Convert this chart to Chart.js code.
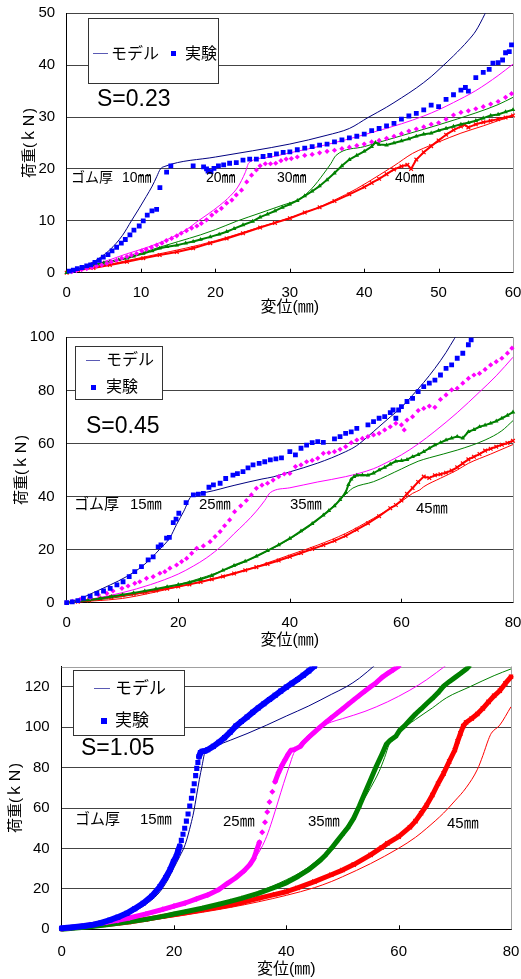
<!DOCTYPE html>
<html><head><meta charset="utf-8">
<script src="https://cdn.jsdelivr.net/npm/chart.js@4/dist/chart.umd.min.js"></script>
<style>
body{margin:0;background:#fff;width:521px;height:979px;position:relative;overflow:hidden;font-family:"Liberation Sans",Arial,"Noto Sans CJK JP",sans-serif;color:#000}
canvas{position:absolute;left:0}
.t{position:absolute;white-space:nowrap;line-height:1;color:#000}
.leg{position:absolute;border:1px solid #333;background:#fff;box-sizing:border-box}
.ln{position:absolute;height:0;border-top:1.5px solid #5a5ab4}
.sq{position:absolute;width:5px;height:5px;background:#0000ff}
</style></head><body>
<canvas id="c1" width="521" height="320" style="top:0"></canvas>
<canvas id="c2" width="521" height="335" style="top:320px"></canvas>
<canvas id="c3" width="521" height="324" style="top:655px"></canvas>

<!-- panel 1 overlays -->
<div class="leg" style="left:88px;top:18px;width:131px;height:66px">
  <div class="ln" style="left:4px;top:34px;width:15px"></div>
  <div class="t" style="left:22px;top:27px;font-size:16px">モデル</div>
  <div class="sq" style="left:82px;top:32px"></div>
  <div class="t" style="left:96px;top:27px;font-size:16px">実験</div>
</div>
<div class="t" style="left:97px;top:87px;font-size:23px">S=0.23</div>
<div class="t" style="left:71px;top:170px;font-size:14px">ゴム厚</div>
<div class="t" style="left:122px;top:170px;font-size:14px">10㎜</div>
<div class="t" style="left:206px;top:170px;font-size:14px">20㎜</div>
<div class="t" style="left:277px;top:170px;font-size:14px">30㎜</div>
<div class="t" style="left:395px;top:170px;font-size:14px">40㎜</div>

<!-- panel 2 overlays -->
<div class="leg" style="left:75px;top:346px;width:88px;height:54px">
  <div class="ln" style="left:10px;top:13px;width:14px"></div>
  <div class="t" style="left:30px;top:5px;font-size:16px">モデル</div>
  <div class="sq" style="left:15px;top:38px"></div>
  <div class="t" style="left:30px;top:32px;font-size:16px">実験</div>
</div>
<div class="t" style="left:86px;top:414px;font-size:23px">S=0.45</div>
<div class="t" style="left:74px;top:496px;font-size:15px">ゴム厚</div>
<div class="t" style="left:130px;top:496px;font-size:15px">15㎜</div>
<div class="t" style="left:199px;top:496px;font-size:15px">25㎜</div>
<div class="t" style="left:290px;top:496px;font-size:15px">35㎜</div>
<div class="t" style="left:416px;top:500px;font-size:15px">45㎜</div>

<!-- panel 3 overlays -->
<div class="leg" style="left:73px;top:670px;width:112px;height:66px">
  <div class="ln" style="left:20px;top:17px;width:16px"></div>
  <div class="t" style="left:41px;top:9px;font-size:17px">モデル</div>
  <div class="sq" style="left:27px;top:47px;width:6px;height:6px"></div>
  <div class="t" style="left:41px;top:41px;font-size:17px">実験</div>
</div>
<div class="t" style="left:81px;top:736px;font-size:23px">S=1.05</div>
<div class="t" style="left:75px;top:811px;font-size:15px">ゴム厚</div>
<div class="t" style="left:140px;top:811px;font-size:15px">15㎜</div>
<div class="t" style="left:223px;top:813px;font-size:15px">25㎜</div>
<div class="t" style="left:308px;top:813px;font-size:15px">35㎜</div>
<div class="t" style="left:447px;top:815px;font-size:15px">45㎜</div>

<script>
// ---------- tick values ----------
const p1_xTicks = [0,10,20,30,40,50,60];
const p1_yTicks = [0,10,20,30,40,50];
const p2_xTicks = [0,20,40,60,80];
const p2_yTicks = [0,20,40,60,80,100];
const p3_xTicks = [0,20,40,60,80];
const p3_yTicks = [0,20,40,60,80,100,120];
const xTitle = '変位(㎜)';
const yTitle = '荷重(ｋＮ)';

// ---------- Panel 1 : S=0.23 ----------
const p1_exp10 = [[0.35,0.3],[0.89,0.5],[1.43,0.8],[2.06,1.0],[2.69,1.3],[3.22,1.5],[3.8,2.0],[4.38,2.4],[4.92,3.0],[5.55,3.5],[6.09,4.2],[6.71,4.9],[7.34,5.7],[7.88,6.4],[8.5,7.3],[9.04,8.2],[9.75,9.0],[10.29,10.0],[10.83,11.1],[11.46,11.9],[12.09,12.2],[12.53,16.4],[13.43,19.4],[14.0,20.6],[17.0,20.6],[18.4,20.4],[18.8,20.0],[19.0,19.6],[19.4,19.5],[19.8,20.1],[20.4,20.6],[21.1,20.8],[21.9,21.1],[22.8,21.2],[23.7,21.7],[24.6,21.9],[25.5,21.9],[26.4,22.4],[27.3,22.6],[28.2,22.9],[29.1,23.2],[30,23.3],[31,23.7],[32,24.0],[33,24.3],[34,24.6],[35,24.8],[36,25.2],[37,25.6],[38,26.0],[39,26.3],[40,26.7],[41,27.4],[42,27.8],[43,28.3],[44,28.8],[45,29.6],[46,30.2],[47,30.7],[48,31.4],[49,32.3],[50,32.0],[51,33.4],[52,34.3],[53,35.2],[53.6,35.7],[54,35.0],[55,37.6],[56,38.6],[56.8,39.2],[57.3,40.4],[58,40.5],[58.6,41.0],[59,42.4],[59.5,42.6],[59.8,43.9]];
const p1_exp20 = [[0.7,0.2],[1.3,0.4],[2.0,0.6],[2.7,0.8],[3.4,1.0],[4.0,1.3],[4.7,1.5],[5.4,1.8],[6.0,2.1],[6.7,2.4],[7.4,2.8],[8.1,3.1],[8.7,3.4],[9.4,3.7],[10.1,4.2],[10.7,4.5],[11.4,4.9],[12.1,5.3],[12.8,5.7],[13.4,6.2],[14.1,6.6],[14.8,7.1],[15.4,7.6],[16.1,8.1],[16.8,8.6],[17.5,9.0],[18.1,9.5],[18.8,10.2],[19.5,11.1],[20.1,11.8],[20.8,12.4],[21.5,13.4],[22.2,14.0],[22.8,15.0],[23.5,15.9],[24.2,17.5],[24.85,18.8],[25.5,19.8],[26,20.6],[26.7,21.0],[27.4,21.0],[28.1,21.1],[28.8,21.6],[29.5,21.9],[30.2,22.0],[31,22.3],[32,22.6],[33,22.8],[34,23.1],[35,23.4],[36,23.6],[37,23.9],[38,24.2],[39,24.5],[40,24.8],[41,25.2],[42,25.5],[43,25.9],[44,26.3],[45,26.8],[46,27.3],[47,27.7],[48,28.1],[49,28.6],[50,28.9],[51,29.6],[52,30.4],[53,30.9],[54,31.2],[55,31.6],[56,32.0],[57,32.5],[58,33.0],[59,33.8],[59.8,34.5]];
const p1_exp30 = [[0,0],[1,0.4],[2,0.8],[3.6,1.5],[5,1.9],[5.8,2.1],[7,2.5],[8.1,2.8],[9,3.2],[10.3,3.7],[11.5,4.2],[12.5,4.7],[13.5,5.0],[14.8,5.3],[16,5.7],[17,6.0],[18,6.4],[19.3,6.9],[20.5,7.4],[21.5,7.9],[22.5,8.5],[23.7,9.2],[25,9.9],[26,10.7],[27,11.3],[28,11.9],[29,12.6],[30,13.2],[31,13.9],[32,14.8],[33,15.7],[34,16.7],[35,17.9],[36,19.2],[37,20.6],[38,21.8],[39,22.6],[40,23.4],[41,24.3],[41.5,25.1],[42,24.7],[43,24.6],[44,25.0],[45,25.4],[46,25.8],[47,26.3],[48,26.7],[49,26.9],[50,27.4],[51,27.8],[52,28.2],[53,28.6],[54,28.9],[55,29.3],[56,29.8],[57,30.3],[58,30.5],[59,31.0],[60,31.4]];
const p1_exp40 = [[0,0],[1.5,0.5],[3.6,0.9],[5.8,1.5],[8.1,2.1],[10.3,2.8],[12.5,3.4],[14.8,4.0],[17,4.7],[19.3,5.7],[21.5,6.6],[23.7,7.6],[26,8.7],[28,9.6],[30,10.5],[32,11.6],[34,12.6],[36,13.8],[38,15.1],[40,16.5],[41,17.3],[42,18.1],[43,19.0],[44,19.9],[45,20.5],[45.8,20.8],[46.3,20.0],[47,21.8],[48,23.2],[49,24.4],[50,25.5],[51,26.6],[52,27.5],[53,28.2],[53.5,28.5],[54,28.0],[55,28.6],[56,29.0],[57,29.3],[58,29.6],[59,29.9],[60,30.3]];
const p1_mod10 = [[0,0],[1,0.4],[2,1.0],[3.6,2.1],[5.8,4.4],[7.5,7.2],[8.7,10.0],[9.7,12.3],[10.7,14.7],[11.5,16.7],[12.1,18.5],[12.6,20.0],[13.2,20.5],[20,22.3],[25,23.5],[30,24.8],[35,26.5],[38,27.8],[40.5,29.9],[43,31.9],[45,33.7],[47,35.6],[49,37.8],[50.3,39.5],[52,41.8],[54,44.8],[55,46.6],[56.2,49.8],[56.6,51]];
const p1_mod20 = [[0,0],[2,0.8],[4,1.7],[6,2.6],[8,3.6],[10,4.5],[12,5.5],[14,6.7],[16,8.2],[17.5,9.8],[19,11.3],[20.5,12.9],[22,14.8],[23,16.5],[24,19.3],[24.5,21.2],[27,22.2],[30,23.1],[35,24.7],[40,26.6],[45,28.7],[48,30.2],[50,31.4],[52,32.8],[55,35.1],[58,38.0],[60,40.2]];
const p1_mod30 = [[0,0],[3,0.9],[6,2.0],[9,3.3],[12,4.7],[15,6.0],[18,7.3],[20,8.3],[22.8,9.9],[26,11.5],[29,13.0],[31.4,14.3],[33,16.3],[34.5,19.0],[35.5,21.0],[36.2,22.6],[40,24.3],[45,26.4],[50,28.5],[55,30.8],[58,32.4],[60,33.8]];
const p1_mod40 = [[0,0],[3,0.8],[6,1.7],[10,2.9],[14,4.1],[18,5.4],[22,7.0],[26,8.8],[30,10.6],[33,12.1],[36,14.0],[39,16.2],[42,18.8],[44,20.6],[46.5,23.0],[48,24.0],[50,25.2],[53,26.9],[56,28.3],[58,29.3],[60,30.2]];

// ---------- Panel 2 : S=0.45 ----------
const p2_exp15 = [[0,0],[1,0.3],[2,0.8],[3,1.7],[4.2,2.5],[5.4,3.5],[6.6,4.4],[7.8,5.4],[9.0,6.7],[10.1,7.9],[11.2,9.8],[12.2,11.7],[13.4,13.6],[14.6,16.1],[15.5,17.3],[16.4,21.0],[16.9,21.8],[17.9,24.3],[18.4,24.6],[19.1,30.2],[19.6,31.5],[20.1,33.7],[21.4,37.7],[22.7,40.6],[23.6,40.9],[24.5,41.2],[25.5,43.5],[26.3,44.4],[27.5,45.0],[28.5,46.8],[29.8,48.1],[30.6,48.6],[31.6,49.4],[32.5,50.8],[33.4,51.9],[34.5,52.5],[35.5,53.1],[36.5,53.8],[37.5,54.2],[38.5,54.6],[40,56.9],[41,55.7],[42,58.2],[43,59.4],[44,60.3],[45,60.7],[46,60.4],[48,61.7],[49,62.6],[50,63.8],[51,64.4],[52,65.7],[54,67.0],[55,68.2],[56,69.5],[57,70.1],[58,71.6],[58.5,72.6],[59,69.5],[59.5,72.6],[60,73.9],[61,75.8],[62,77.0],[63,79.5],[64,81.4],[65,82.7],[66,83.9],[67,85.8],[68,88.3],[69,89.6],[70,92.1],[71,94.0],[72,97.2],[72.5,99.0]];
const p2_exp25 = [[0,0],[1,0.5],[2.4,1.3],[4.2,2.0],[5.7,2.9],[7.2,3.5],[8.3,4.4],[9.9,5.4],[11.0,6.3],[12.2,7.3],[13.1,7.9],[14.3,9.2],[15.5,9.8],[16.7,11.1],[17.6,11.7],[18.5,13.0],[19.7,14.2],[20.6,15.5],[21.5,16.7],[22.4,18.6],[23.3,20.5],[24.5,21.4],[25.7,23.0],[26.6,24.9],[27.5,26.8],[28.3,29.0],[29.2,31.2],[30.1,34.3],[31.2,36.5],[32.2,38.5],[33.1,40.6],[34,43.1],[35,44.3],[36,45.0],[37,46.2],[38,47.5],[39,48.5],[40,48.7],[41,51.3],[42,51.9],[43,53.1],[44,53.6],[45,54.4],[46,56.3],[47,56.5],[48,56.9],[49,57.8],[50,58.8],[51,60.3],[52,61.3],[53,61.9],[54,62.6],[55,63.2],[56,63.8],[57,65.1],[58,66.3],[59,67.6],[60,67.0],[60.5,65.1],[61,68.8],[62,70.1],[63,72.4],[64,73.2],[65,74.1],[66,73.6],[67,76.6],[68,78.3],[69,80.2],[70,80.8],[71,82.7],[72,84.5],[73,85.8],[74,86.4],[75,87.9],[76,89.6],[77,90.8],[78,92.1],[79,94.0],[79.8,95.9]];
const p2_exp35 = [[0,0],[2,0.5],[4,1.0],[6,1.6],[8,2.3],[10,3.0],[12,3.7],[14,4.4],[16,5.2],[18,6.0],[20,6.8],[22,7.6],[24,8.8],[26,10.2],[28,12.2],[30,14.0],[32,15.6],[34,17.5],[36,19.6],[38,21.8],[40,24.2],[42,27.0],[44,29.8],[46,33.0],[47,34.7],[48,36.5],[49,38.8],[50,41.5],[50.5,44.5],[51,46.5],[51.5,47.5],[52,48.0],[53,48.1],[54,48.0],[55,48.8],[56,50.0],[57,51.0],[58,52.2],[59,53.3],[60,53.5],[61,53.9],[62,55.0],[63,55.8],[64,56.9],[65,58.2],[66,59.4],[67,60.3],[68,61.3],[69,62.0],[70,62.6],[71,62.0],[72,64.4],[73,65.2],[74,66.3],[75,66.9],[76,67.6],[77,68.4],[78,69.5],[79,70.6],[80,71.8]];
const p2_exp45 = [[0,0],[2,0.4],[4,0.9],[6,1.5],[8,2.1],[10,2.7],[12,3.3],[14,3.9],[16,4.6],[18,5.3],[20,6.1],[22,6.9],[24,7.8],[26,8.8],[28,9.9],[30,11.0],[32,12.2],[34,13.4],[36,14.6],[38,15.9],[40,17.3],[42,18.7],[44,20.2],[46,21.7],[48,23.3],[50,25.2],[52,27.5],[54,29.9],[56,32.6],[58,35.6],[59,36.8],[60,38.5],[61,41.0],[62,43.2],[63,45.5],[64,47.5],[65,47.0],[66,48.0],[67,48.4],[68,49.0],[69,49.8],[70,51.0],[71,52.5],[72,54.0],[73,55.0],[74,56.0],[75,57.3],[76,58.0],[77,58.8],[78,59.5],[79,60.2],[80,61.0]];
const p2_mod15 = [[0,0],[2,1.2],[4.8,3.8],[7.8,6.7],[10.7,9.8],[13.7,14.0],[16.7,20.2],[18.5,24.5],[19.7,29.5],[21,34.5],[22.3,40.0],[25,41.6],[30,44.2],[35,46.6],[37,47.4],[40,49.3],[45,52.6],[50,56.9],[52,59.2],[55,64.5],[58,70.0],[60,73.6],[62,78.2],[64,83.0],[66,88.3],[68,94.3],[69.5,99.5],[70,101]];
const p2_mod25 = [[0,0],[5,1.6],[10,3.8],[15,6.8],[20,10.8],[22.7,13.8],[25,16.8],[28,21.8],[30,26.0],[32,30.0],[34,34.5],[35.5,38.5],[36.5,41.5],[40,43.3],[45,45.5],[50,47.5],[55,50.5],[58,53.5],[60,55.7],[63,59.8],[66,64.6],[70,71.6],[74,79.4],[77,85.5],[80,92.5]];
const p2_mod35 = [[0,0],[5,1.0],[10,2.3],[15,4.3],[20,6.8],[25,9.9],[30,13.7],[35,18.4],[40,24.0],[43,28.0],[45,31.2],[47,34.8],[49,38.8],[50.5,41.8],[51.3,43.2],[55,45.6],[60,50.4],[63,53.3],[65,54.6],[70,57.5],[75,61.3],[78,64.8],[80,68.6]];
const p2_mod45 = [[0,0],[5,0.7],[10,1.6],[15,3.6],[20,6.0],[25,8.4],[30,11.1],[35,14.3],[40,18.0],[45,21.7],[50,26.1],[55,31.8],[58,35.5],[60,38.1],[62,41.2],[63.3,42.5],[64,43.7],[67,46.9],[70,50.0],[72,52.5],[76,56.0],[80,59.6]];

// ---------- Panel 3 : S=1.05 ----------
const p3_exp15 = [[0,0.5],[2,1.0],[4,1.6],[5.6,2.3],[7,3.2],[8.6,4.6],[10,6.0],[11.6,7.9],[13,10.2],[14.5,12.9],[16,16.3],[17.5,21.1],[18.5,25.5],[19.3,29.5],[19.9,33.5],[20.4,36.0],[20.7,38.5],[21.0,41.0],[21.3,44.0],[21.6,47.0],[21.9,50.0],[22.2,53.5],[22.5,57.0],[22.8,61.0],[23.1,64.8],[23.35,68.5],[23.6,72.0],[23.85,76.0],[24.05,79.6],[24.25,82.5],[24.45,85.4],[24.7,87.4],[25.0,88.0],[25.5,88.2],[26,88.8],[27,90.5],[28,92.5],[29,94.8],[30,97.5],[31,100.5],[32,102.8],[33,105],[34,107.3],[35,109.5],[36,111.6],[37,113.7],[38,115.7],[39,117.8],[40,119.8],[41,121.7],[42,123.6],[43,125.6],[44,127.8],[45,130.2]];
const p3_exp25 = [[0,0.3],[2,1.0],[5,2.2],[8,3.5],[10,4.4],[12,5.6],[15,7.6],[18,9.9],[20,11.5],[22,13.0],[24,15.0],[26,17.0],[28,19.7],[29.4,22.5],[31,25.5],[32.5,29.0],[33.5,32.0],[34.2,35],[34.7,39],[35.2,43],[35.7,48],[36.2,53],[36.6,58],[37.0,63],[37.5,68],[38.0,73],[38.6,77.5],[39.2,81],[39.8,84],[40.3,86.5],[40.8,88.5],[41.5,89.0],[42.5,90.5],[43,92.3],[44,95],[45,97.5],[46,100],[47,102.3],[48,104.6],[49,106.8],[50,109.0],[51,111.3],[52,113.5],[53,115.7],[54,117.9],[55,120.0],[56,122],[57,124.5],[58,126.5],[59,128.3],[60,130.2]];
const p3_exp35 = [[0,0],[2,0.5],[5,1.2],[8,2.2],[10,3.0],[12,3.7],[15,4.9],[18,6.4],[20,7.6],[22,8.7],[25,10.4],[28,12.4],[30,13.8],[32,15.3],[35,17.8],[38,20.8],[40,23.0],[42,26.0],[44,29.5],[46,34.0],[47,36.8],[48,40.0],[49,43.5],[50,47.0],[51,50.5],[52,55.0],[53,61.0],[54,67.5],[55,74.0],[56,80.5],[57,86.5],[57.8,91.5],[58.5,93.5],[59.5,95.5],[60.2,98.5],[61,100.5],[62,103.5],[63,106.5],[64,109],[65,111.7],[66,114.2],[67,117],[68,120.3],[69,122.5],[70,124.5],[71,126.5],[72,128.6],[72.5,130]];
const p3_exp45 = [[0,0.3],[2,0.8],[5,1.6],[8,2.4],[10,3.0],[12,3.6],[15,4.9],[18,6.4],[20,7.3],[22,8.2],[25,9.6],[28,11.0],[30,12.0],[32,13.2],[35,15.3],[38,17.3],[40,18.6],[42,20.5],[45,23.6],[48,27.0],[50,29.3],[52,32.0],[55,36.8],[57,40.5],[58,42.5],[60,45.8],[62,50.5],[63,53.5],[64,57.4],[65,61.5],[66,66.4],[67,72],[68,77.1],[69,83],[70,88.7],[70.5,93],[71,96.9],[71.5,100.5],[72,102.3],[73,104.3],[74,106.5],[75,109.3],[76,112.5],[77,115.5],[78,118],[79,121.6],[80,124.9]];
const p3_mod15 = [[0,0],[5,2.0],[10,5.5],[12,7.5],[14,10.5],[15,12.3],[17,17.0],[18,20.5],[19,25.0],[20,30.5],[21,36.0],[22,42.0],[23,52.0],[23.5,58.0],[24,66.0],[24.5,74.0],[25,81.0],[25.5,87.5],[27,90.3],[30,93.5],[33,96.8],[36.5,101],[40,105.5],[44,110.5],[48,116.2],[50.7,120],[53,124.2],[55.8,130.7]];
const p3_mod25 = [[0,0],[5,1.6],[10,3.8],[15,6.8],[20,10.6],[25,15.5],[28,19.5],[30,23.0],[32,27.5],[34,33.5],[35.5,40.0],[36.5,46],[37.5,54],[38.5,63],[39.5,72],[40.5,80.5],[41.3,87],[41.8,89.5],[43,93.5],[45,98.5],[48,102.5],[50,104.2],[54,107.8],[58,112.5],[62,118.3],[65,123.5],[68.5,130.7]];
const p3_mod35 = [[0,0],[5,1.1],[10,2.7],[15,4.8],[20,7.3],[25,10.4],[30,14.0],[35,18.6],[40,24.5],[43,29.0],[45,33.0],[47,38.0],[49,44.5],[51,52.0],[53,60.5],[55,70.0],[56.5,78.0],[57.5,85.0],[58.3,91.5],[58.8,94.0],[60,97.5],[63,103.8],[66,109.5],[68.5,114.5],[72.7,120],[77,125.5],[80,128.8]];
const p3_mod45 = [[0,0],[5,1.2],[10,2.6],[15,4.2],[20,6.2],[25,8.4],[30,10.8],[35,13.6],[40,16.8],[45,20.6],[48,23.6],[50,26.0],[55,32.5],[60,40.1],[63,45.5],[65,50.0],[68,57.5],[70,63.5],[72,70.0],[74,79.0],[75,86.0],[76,94.0],[76.5,97.0],[78,101.0],[80,110.1]];

// ---------- colours ----------
const C_NAVY='#000080', C_BLUE='#0000ff', C_MAG='#ff00ff', C_GRN='#008000', C_RED='#ff0000';

const discreteSteep = {
  borderColor: ctx => {
    const dx = Math.abs(ctx.p1.x - ctx.p0.x), dy = Math.abs(ctx.p1.y - ctx.p0.y);
    return (dy > 3 * dx && dy > 4) ? 'rgba(0,0,0,0)' : undefined;
  }
};

function exp(data, color, style, r, extra) {
  return Object.assign({
    data, showLine:false, pointStyle:style, pointRadius:r,
    pointBackgroundColor:color, pointBorderColor:color,
    pointBorderWidth: style === 'crossRot' ? 1.2 : 0,
    borderColor:color, borderWidth:0, borderJoinStyle:'round', borderCapStyle:'round',
    clip:{left:3,right:3,top:0,bottom:3}
  }, extra || {});
}
function model(data, color) {
  return { data, showLine:true, pointRadius:0, borderColor:color, borderWidth:1,
           cubicInterpolationMode:'monotone', clip:0 };
}

const frame = {
  id:'frame',
  beforeDatasetsDraw(chart, args, opts) {
    const {ctx, chartArea:a, scales:{x}} = chart;
    ctx.save();
    ctx.strokeStyle = '#a0a0a0'; ctx.lineWidth = 1;
    ctx.beginPath();
    ctx.moveTo(Math.round(a.right)+0.5, a.top); ctx.lineTo(Math.round(a.right)+0.5, a.bottom);
    if (opts.top) { ctx.moveTo(a.left, Math.round(a.top)+0.5); ctx.lineTo(a.right, Math.round(a.top)+0.5); }
    ctx.stroke();
    ctx.strokeStyle = '#000';
    ctx.beginPath();
    x.ticks.forEach(t => {
      if (t.value > x.min && t.value < x.max) {
        const px = Math.round(x.getPixelForValue(t.value)) + 0.5;
        ctx.moveTo(px, a.bottom); ctx.lineTo(px, a.bottom - 4);
      }
    });
    ctx.stroke();
    ctx.restore();
  }
};

const FONT = '"Liberation Sans", Arial, "Noto Sans CJK JP", sans-serif';
Chart.defaults.font.family = FONT;
Chart.defaults.color = '#000';

function panel(id, P) {
  const zero = s => { s.paddingLeft = 0; s.paddingRight = 0; s.paddingTop = 0; s.paddingBottom = 0; };
  return new Chart(document.getElementById(id), {
    type:'scatter',
    data:{ datasets:P.datasets },
    options:{
      responsive:false, animation:false, events:[],
      layout:{ padding:{ top:P.top, right:P.right, left:0, bottom:0 } },
      plugins:{ legend:{display:false}, tooltip:{enabled:false}, frame:{ top:P.topBorder } },
      scales:{
        x:{
          type:'linear', min:0, max:P.xMax,
          afterBuildTicks: s => { s.ticks = P.xTicks.map(v => ({value:v})); },
          afterFit: s => { s.height = P.xH; zero(s); },
          grid:{ display:false, drawTicks:false },
          border:{ display:true, color:'#000', width:1 },
          ticks:{ padding:P.xPad, color:'#000', font:{size:15}, maxRotation:0, autoSkip:false },
          title:{ display:true, text:xTitle, color:'#000', font:{size:16, lineHeight:1.1}, padding:{top:0, bottom:P.xTitlePad} }
        },
        y:{
          type:'linear', min:0, max:P.yMax,
          afterBuildTicks: s => { s.ticks = P.yTicks.map(v => ({value:v})); },
          afterFit: s => { s.width = P.yW; zero(s); },
          grid:{ display:true, drawTicks:false, color:'#444', lineWidth:1 },
          border:{ display:true, color:'#000', width:1 },
          ticks:{ padding:P.yPad, color:'#000', font:{size:15}, autoSkip:false },
          title:{ display:true, text:yTitle, color:'#000', font:{size:15, lineHeight:1.1}, padding:{top:P.yTitlePad, bottom:0} }
        }
      }
    },
    plugins:[frame]
  });
}

panel('c1', {
  xMax:60, yMax:50, xTicks:p1_xTicks, yTicks:p1_yTicks,
  top:13.3, right:8, xH:47.3, yW:66.7, xPad:11, yPad:11.5, xTitlePad:3.2, yTitlePad:21.7, topBorder:false,
  datasets:[
    exp(p1_exp10, C_BLUE, 'rect', 3.4),
    exp(p1_exp20, C_MAG, 'rectRot', 2.6),
    exp(p1_exp30, C_GRN, 'triangle', 2.6, {showLine:true, borderWidth:2}),
    exp(p1_exp40, C_RED, 'crossRot', 2.6, {showLine:true, borderWidth:2}),
    model(p1_mod10, C_NAVY), model(p1_mod20, C_MAG), model(p1_mod30, C_GRN), model(p1_mod40, C_RED)
  ]
});

panel('c2', {
  xMax:80, yMax:100, xTicks:p2_xTicks, yTicks:p2_yTicks,
  top:17.3, right:8, xH:52.3, yW:66.7, xPad:11.6, yPad:12, xTitlePad:5.2, yTitlePad:13.4, topBorder:false,
  datasets:[
    exp(p2_exp15, C_BLUE, 'rect', 3.4),
    exp(p2_exp25, C_MAG, 'rectRot', 2.6),
    exp(p2_exp35, C_GRN, 'triangle', 2.6, {showLine:true, borderWidth:2}),
    exp(p2_exp45, C_RED, 'crossRot', 2.6, {showLine:true, borderWidth:2}),
    model(p2_mod15, C_NAVY), model(p2_mod25, C_MAG), model(p2_mod35, C_GRN), model(p2_mod45, C_RED)
  ]
});

panel('c3', {
  xMax:80, yMax:130, xTicks:p3_xTicks, yTicks:p3_yTicks,
  top:11.5, right:10, xH:49.7, yW:61.7, xPad:13.4, yPad:12, xTitlePad:0.2, yTitlePad:7.4, topBorder:true,
  datasets:[
    exp(p3_exp15, C_BLUE, 'rect', 3.6, {showLine:true, borderWidth:6, segment:discreteSteep}),
    exp(p3_exp25, C_MAG, 'rectRot', 3, {showLine:true, borderWidth:5, segment:discreteSteep}),
    exp(p3_exp35, C_GRN, 'triangle', 2.8, {showLine:true, borderWidth:5}),
    exp(p3_exp45, C_RED, 'crossRot', 3, {showLine:true, borderWidth:5}),
    model(p3_mod15, C_NAVY), model(p3_mod25, C_MAG), model(p3_mod35, C_GRN), model(p3_mod45, C_RED)
  ]
});
</script>
</body></html>
